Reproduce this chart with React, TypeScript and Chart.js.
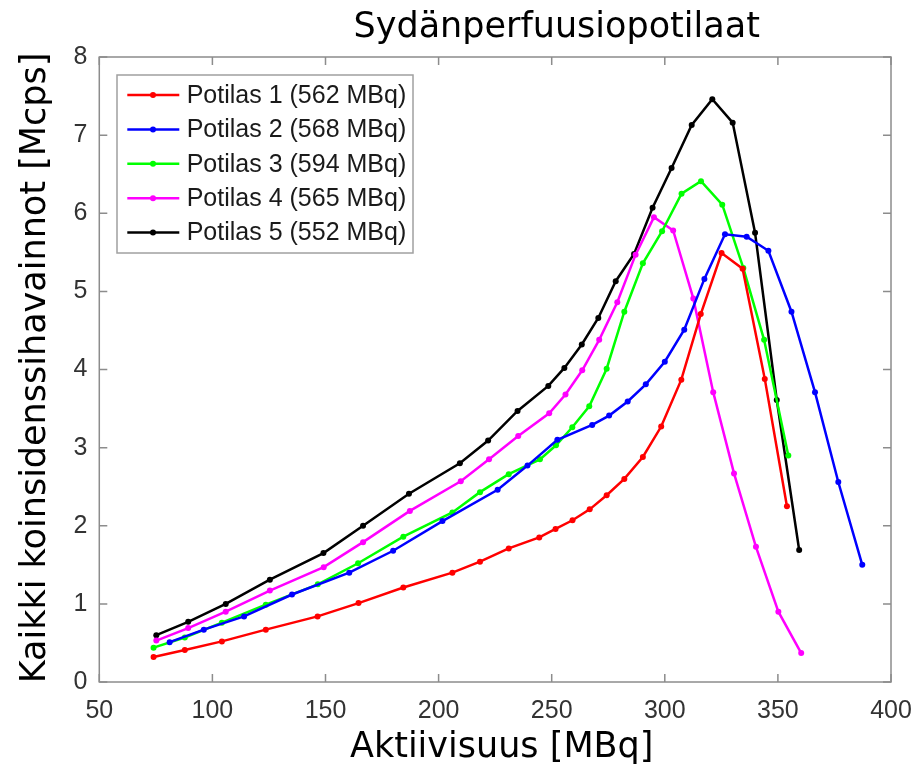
import React, { useEffect, useRef } from "react";
import { Chart, registerables } from "chart.js";

Chart.register(...registerables);

const TITLE = "Sydänperfuusiopotilaat";
const X_TITLE = "Aktiivisuus [MBq]";
const Y_TITLE = "Kaikki koinsidenssihavainnot [Mcps]";

const LABELS = [
  "Potilas 1 (562 MBq)",
  "Potilas 2 (568 MBq)",
  "Potilas 3 (594 MBq)",
  "Potilas 4 (565 MBq)",
  "Potilas 5 (552 MBq)",
];
const COLORS = ["#ff0000", "#0000ff", "#00ff00", "#ff00ff", "#000000"];

const X_TICKS = [50, 100, 150, 200, 250, 300, 350, 400];
const Y_TICKS = [0, 1, 2, 3, 4, 5, 6, 7, 8];

const p1X = [74.0, 87.8, 104.2, 123.6, 146.5, 164.6, 184.4, 206.1, 218.3, 231.0, 244.5, 251.7, 259.2, 266.8, 274.3, 282.1, 290.3, 298.4, 307.3, 315.9, 325.1, 334.4, 344.2, 354.0];
const p1Y = [0.32, 0.41, 0.52, 0.67, 0.84, 1.01, 1.21, 1.40, 1.54, 1.71, 1.85, 1.96, 2.07, 2.21, 2.39, 2.60, 2.88, 3.27, 3.87, 4.71, 5.49, 5.29, 3.88, 2.25];

const p2X = [81.1, 96.2, 114.0, 135.2, 160.5, 179.9, 201.7, 226.1, 239.3, 252.5, 267.9, 275.4, 283.6, 291.6, 300.0, 308.6, 317.5, 326.6, 336.2, 345.8, 356.0, 366.4, 376.7, 387.3];
const p2Y = [0.51, 0.67, 0.84, 1.12, 1.40, 1.68, 2.06, 2.46, 2.77, 3.10, 3.29, 3.41, 3.59, 3.81, 4.10, 4.51, 5.16, 5.73, 5.70, 5.52, 4.74, 3.71, 2.56, 1.50];

const p3X = [74.0, 87.8, 104.2, 123.6, 146.6, 164.4, 184.4, 206.1, 218.3, 231.0, 244.8, 251.9, 259.1, 266.6, 274.3, 282.1, 290.3, 298.8, 307.4, 316.0, 325.4, 334.7, 343.9, 354.6];
const p3Y = [0.44, 0.57, 0.76, 0.99, 1.25, 1.52, 1.86, 2.17, 2.43, 2.66, 2.85, 3.03, 3.26, 3.53, 4.01, 4.74, 5.36, 5.77, 6.25, 6.41, 6.11, 5.30, 4.38, 2.90];

const p4X = [75.2, 89.3, 105.9, 125.4, 149.2, 166.6, 187.3, 209.8, 222.3, 235.2, 248.9, 256.1, 263.5, 271.0, 279.0, 287.1, 295.2, 303.7, 312.6, 321.4, 330.6, 340.3, 350.2, 360.3];
const p4Y = [0.53, 0.69, 0.90, 1.17, 1.47, 1.79, 2.19, 2.57, 2.85, 3.15, 3.44, 3.68, 3.99, 4.38, 4.86, 5.47, 5.95, 5.78, 4.91, 3.71, 2.67, 1.73, 0.90, 0.37];

const p5X = [75.2, 89.3, 105.9, 125.4, 149.1, 166.6, 186.9, 209.4, 221.9, 234.9, 248.5, 255.6, 263.3, 270.6, 278.3, 286.4, 294.6, 303.0, 311.9, 321.0, 330.0, 339.9, 349.5, 359.4];
const p5Y = [0.60, 0.77, 1.00, 1.31, 1.65, 2.00, 2.41, 2.80, 3.09, 3.47, 3.79, 4.02, 4.32, 4.66, 5.13, 5.48, 6.07, 6.58, 7.13, 7.46, 7.16, 5.75, 3.61, 1.69];

const SERIES_X = [p1X, p2X, p3X, p4X, p5X];
const SERIES_Y = [p1Y, p2Y, p3Y, p4Y, p5Y];

const BOX_COLOR = "#8c8c8c";
const TICK_FONT = "Liberation Sans";
const TITLE_FONT = "DejaVu Sans";

const decorPlugin = {
  id: "decor",
  beforeDatasetsDraw(chart: any) {
    const { ctx, chartArea: a, scales } = chart;
    ctx.save();
    ctx.strokeStyle = BOX_COLOR;
    ctx.lineWidth = 1.5;
    ctx.strokeRect(a.left, a.top, a.right - a.left, a.bottom - a.top);
    const tl = 8;
    ctx.beginPath();
    X_TICKS.forEach((v) => {
      const x = scales.x.getPixelForValue(v);
      ctx.moveTo(x, a.bottom);
      ctx.lineTo(x, a.bottom - tl);
      ctx.moveTo(x, a.top);
      ctx.lineTo(x, a.top + tl);
    });
    Y_TICKS.forEach((v) => {
      const y = scales.y.getPixelForValue(v);
      ctx.moveTo(a.left, y);
      ctx.lineTo(a.left + tl, y);
      ctx.moveTo(a.right, y);
      ctx.lineTo(a.right - tl, y);
    });
    ctx.stroke();
    ctx.restore();
  },
  afterDatasetsDraw(chart: any) {
    const { ctx } = chart;
    ctx.save();
    ctx.fillStyle = "#000000";
    ctx.font = `35px "${TITLE_FONT}"`;
    ctx.textAlign = "center";
    ctx.textBaseline = "alphabetic";
    ctx.fillText(TITLE, 556.7, 37);
    ctx.fillText(X_TITLE, 501.7, 757);
    ctx.save();
    ctx.translate(45, 368);
    ctx.rotate(-Math.PI / 2);
    ctx.fillText(Y_TITLE, 0, 0);
    ctx.restore();

    const lx = 117, ly = 75, lw = 296, lh = 178;
    ctx.fillStyle = "#ffffff";
    ctx.fillRect(lx, ly, lw, lh);
    ctx.strokeStyle = "#a0a0a0";
    ctx.lineWidth = 1.5;
    ctx.strokeRect(lx, ly, lw, lh);
    ctx.font = `25px "${TICK_FONT}"`;
    ctx.textAlign = "left";
    ctx.textBaseline = "middle";
    LABELS.forEach((label, i) => {
      const cy = 95 + i * 34.4;
      ctx.strokeStyle = COLORS[i];
      ctx.lineWidth = 2.5;
      ctx.beginPath();
      ctx.moveTo(127.3, cy);
      ctx.lineTo(179.3, cy);
      ctx.stroke();
      ctx.fillStyle = COLORS[i];
      ctx.beginPath();
      ctx.arc(153, cy, 3, 0, Math.PI * 2);
      ctx.fill();
      ctx.fillStyle = "#1a1a1a";
      ctx.fillText(label, 186.7, cy + 1);
    });
    ctx.restore();
  },
};

export default function App() {
  const canvasRef = useRef<HTMLCanvasElement | null>(null);

  useEffect(() => {
    const canvas = canvasRef.current;
    if (!canvas) return;
    const datasets = LABELS.map((label, i) => ({
      label,
      data: SERIES_X[i].map((x, j) => ({ x, y: SERIES_Y[i][j] })),
      borderColor: COLORS[i],
      backgroundColor: COLORS[i],
      borderWidth: 2.5,
      pointRadius: 3,
      pointBorderWidth: 0,
      pointBackgroundColor: COLORS[i],
      showLine: true,
      tension: 0,
      fill: false,
    }));
    const chart = new Chart(canvas, {
      type: "scatter",
      data: { datasets },
      plugins: [decorPlugin],
      options: {
        animation: false,
        responsive: false,
        devicePixelRatio: 1,
        layout: { padding: { left: 0, right: 28, top: 57, bottom: 0 } },
        plugins: {
          legend: { display: false },
          title: { display: false },
          tooltip: { enabled: false },
        },
        scales: {
          x: {
            type: "linear",
            min: 50,
            max: 400,
            afterBuildTicks: (s: any) => {
              s.ticks = X_TICKS.map((v) => ({ value: v }));
            },
            afterFit: (s: any) => {
              s.height = 87;
              s.paddingLeft = 0;
              s.paddingRight = 0;
            },
            grid: { display: false, drawTicks: false },
            border: { display: false },
            ticks: {
              padding: 14,
              color: "#333333",
              font: { family: TICK_FONT, size: 25 },
              maxRotation: 0,
            },
          },
          y: {
            type: "linear",
            min: 0,
            max: 8,
            afterBuildTicks: (s: any) => {
              s.ticks = Y_TICKS.map((v) => ({ value: v }));
            },
            afterFit: (s: any) => {
              s.width = 99.3;
              s.paddingTop = 0;
              s.paddingBottom = 0;
            },
            grid: { display: false, drawTicks: false },
            border: { display: false },
            ticks: {
              padding: 12,
              color: "#333333",
              font: { family: TICK_FONT, size: 25 },
            },
          },
        },
      },
    } as any);
    return () => chart.destroy();
  }, []);

  return (
    <div style={{ position: "absolute", left: 0, top: 0, width: 919, height: 769, background: "#ffffff" }}>
      <canvas ref={canvasRef} width={919} height={769} style={{ display: "block", width: 919, height: 769 }} />
    </div>
  );
}
